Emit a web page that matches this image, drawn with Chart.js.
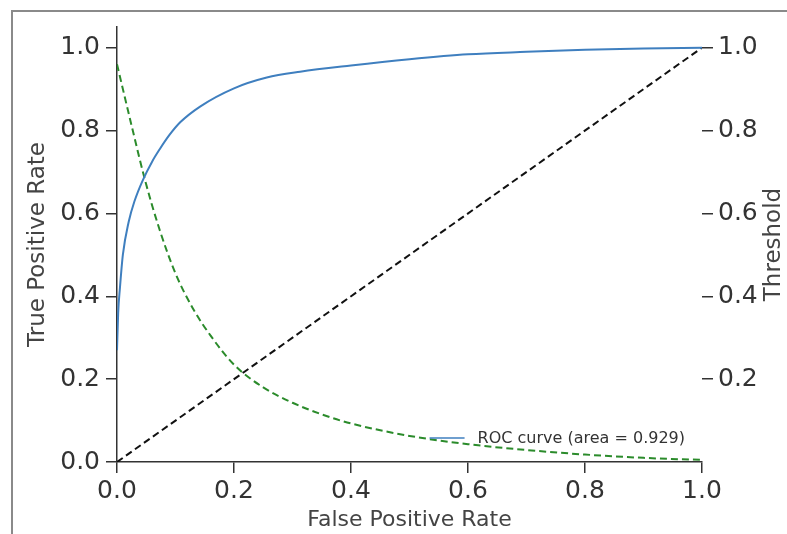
<!DOCTYPE html>
<html>
<head>
<meta charset="utf-8">
<script src="https://cdn.jsdelivr.net/npm/chart.js@4"></script>
<style>
  html, body { margin: 0; padding: 0; background: #fff; overflow: hidden; }
  #frame { position: absolute; left: 11px; top: 10px; width: 900px; height: 700px; border: 2px solid #8a8a8a; }
  #roc { position: absolute; left: 0; top: 0; }
</style>
</head>
<body>
<div id="frame"></div>
<canvas id="roc" width="787" height="534"></canvas>
<script>
// ROC curve points
const fpr = [0, 0.002, 0.005, 0.01, 0.02, 0.03, 0.044, 0.06, 0.073, 0.09, 0.108, 0.142, 0.2, 0.256, 0.313, 0.4, 0.5, 0.6, 0.7, 0.8, 0.9, 1.0];
const tpr = [0.27, 0.36, 0.42, 0.5, 0.58, 0.63, 0.68, 0.725, 0.755, 0.79, 0.82, 0.858, 0.902, 0.928, 0.942, 0.957, 0.972, 0.984, 0.99, 0.995, 0.998, 1.0];

// Threshold curve (right axis)
const thrFpr = [0, 0.027, 0.048, 0.073, 0.1, 0.13, 0.16, 0.2, 0.25, 0.3, 0.35, 0.4, 0.5, 0.6, 0.7, 0.8, 0.9, 1.0];
const thresholds = [0.96, 0.8, 0.68, 0.56, 0.455, 0.37, 0.305, 0.235, 0.18, 0.143, 0.115, 0.093, 0.063, 0.043, 0.029, 0.018, 0.01, 0.005];

// Chance diagonal
const diagX = [0, 1];
const diagY = [0, 1];

// Ticks
const xTicks = [0, 0.2, 0.4, 0.6, 0.8, 1.0];
const xTickLabels = ['0.0', '0.2', '0.4', '0.6', '0.8', '1.0'];
const yTicks = [0, 0.2, 0.4, 0.6, 0.8, 1.0];
const yTickLabels = ['0.0', '0.2', '0.4', '0.6', '0.8', '1.0'];
const thrTicks = [0.2, 0.4, 0.6, 0.8, 1.0];
const thrTickLabels = ['0.2', '0.4', '0.6', '0.8', '1.0'];

const rocLabel = 'ROC curve (area = 0.929)';
const thrTitle = 'Threshold';

const toPoints = (xs, ys) => xs.map((x, i) => ({ x: x, y: ys[i] }));

Chart.defaults.font.family = 'DejaVu Sans';
Chart.defaults.color = '#333';

// small legend inside the plot (lower right) + right axis title read bottom-to-top
const extras = {
  id: 'extras',
  afterDatasetsDraw(chart) {
    const ctx = chart.ctx;
    const area = chart.chartArea;
    const ds = chart.data.datasets[0];
    ctx.save();
    ctx.font = '16px "DejaVu Sans"';
    const w = ctx.measureText(ds.label).width;
    const tx = area.right - 17 - w;
    const ty = area.bottom - 24;
    ctx.strokeStyle = ds.borderColor;
    ctx.lineWidth = 1.5;
    ctx.beginPath();
    ctx.moveTo(tx - 48, ty);
    ctx.lineTo(tx - 13, ty);
    ctx.stroke();
    ctx.fillStyle = '#333';
    ctx.textBaseline = 'middle';
    ctx.fillText(ds.label, tx, ty + 1);

    const r = chart.scales.y2;
    ctx.translate(r.right - 12, (area.top + area.bottom) / 2);
    ctx.rotate(-Math.PI / 2);
    ctx.font = '23px "DejaVu Sans"';
    ctx.fillStyle = '#444';
    ctx.textAlign = 'center';
    ctx.fillText(thrTitle, 0, 0);
    ctx.restore();
  }
};

const tickGrid = { drawOnChartArea: false, drawTicks: true, tickLength: 11, color: '#333', lineWidth: 1.5 };

new Chart(document.getElementById('roc').getContext('2d'), {
  type: 'scatter',
  data: {
    datasets: [
      {
        label: rocLabel,
        data: toPoints(fpr, tpr),
        showLine: true,
        borderColor: '#3f7fbf',
        borderWidth: 2,
        pointRadius: 0,
        cubicInterpolationMode: 'monotone',
        xAxisID: 'x',
        yAxisID: 'y'
      },
      {
        label: 'chance',
        data: toPoints(diagX, diagY),
        showLine: true,
        borderColor: '#111',
        borderWidth: 2,
        borderDash: [7, 4],
        pointRadius: 0,
        xAxisID: 'x',
        yAxisID: 'y'
      },
      {
        label: 'Threshold',
        data: toPoints(thrFpr, thresholds),
        showLine: true,
        borderColor: '#2b8b2b',
        borderWidth: 2,
        borderDash: [7, 4],
        pointRadius: 0,
        cubicInterpolationMode: 'monotone',
        xAxisID: 'x',
        yAxisID: 'y2'
      }
    ]
  },
  options: {
    responsive: false,
    animation: false,
    events: [],
    layout: { padding: { left: 24, right: 1, top: 27, bottom: 1 } },
    plugins: { legend: { display: false }, tooltip: { enabled: false } },
    scales: {
      x: {
        type: 'linear', position: 'bottom', min: 0, max: 1,
        afterBuildTicks: s => { s.ticks = xTicks.map(v => ({ value: v })); },
        afterFit: s => { s.height = 71; },
        ticks: { font: { size: 25 }, padding: 3, callback: (v, i) => xTickLabels[i] },
        grid: tickGrid,
        border: { display: true, color: '#333', width: 1.5 },
        title: { display: true, text: 'False Positive Rate', font: { size: 22 }, color: '#444', padding: 0 }
      },
      y: {
        type: 'linear', position: 'left', min: 0, max: 1.05,
        afterBuildTicks: s => { s.ticks = yTicks.map(v => ({ value: v })); },
        afterFit: s => { s.width = 93; },
        ticks: { font: { size: 25 }, padding: 6, callback: (v, i) => yTickLabels[i] },
        grid: tickGrid,
        border: { display: true, color: '#333', width: 1.5 },
        title: { display: true, text: 'True Positive Rate', font: { size: 23 }, color: '#444', padding: 0 }
      },
      y2: {
        type: 'linear', position: 'right', min: 0, max: 1.05,
        afterBuildTicks: s => { s.ticks = thrTicks.map(v => ({ value: v })); },
        afterFit: s => { s.width = 84; },
        ticks: { font: { size: 25 }, padding: 5, callback: (v, i) => thrTickLabels[i] },
        grid: tickGrid,
        border: { display: false },
        title: { display: false }
      }
    }
  },
  plugins: [extras]
});
</script>
</body>
</html>
